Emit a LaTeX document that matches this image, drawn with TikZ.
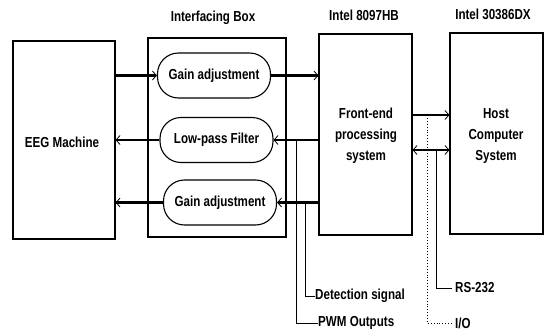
\documentclass[tikz,border=0pt]{standalone}
\usepackage{fontspec}
\setmainfont{Liberation Sans}[FakeStretch=0.8]
\usetikzlibrary{arrows.meta}
\begin{document}
\begin{tikzpicture}[x=1pt,y=-1pt,
  font=\bfseries\fontsize{14.5}{21}\selectfont,
  blk/.style={draw,line width=1.1pt,inner sep=0pt},
  oval/.style={draw,line width=1.1pt,rounded corners=21pt,minimum width=113pt,minimum height=45pt,inner sep=0pt},
  bus/.style={line width=2.6pt,-{Straight Barb[length=4pt,width=9pt,line width=0.8pt]}},
  dbus/.style={line width=2.6pt,{Straight Barb[length=4pt,width=9pt,line width=0.8pt]}-{Straight Barb[length=4pt,width=9pt,line width=0.8pt]}},
  sig/.style={line width=0.9pt},
  lbl/.style={anchor=west,inner sep=0pt}]
\useasboundingbox (0,0) rectangle (544,332);
% boxes
\node[blk,minimum width=102pt,minimum height=198pt] (eeg) at (64,140) {};
\node at (62,142) {EEG Machine};
\node[blk,minimum width=138pt,minimum height=199pt] (ib) at (217,137.5) {};
\node[blk,minimum width=93pt,minimum height=201pt] (fe) at (365.5,134.5) {};
\node[blk,minimum width=93pt,minimum height=201pt] (host) at (496.5,133.5) {};
\node[align=center] at (366,136) {Front-end\\processing\\system};
\node[align=center] at (496,136) {Host\\Computer\\System};
% titles
\node (t1) at (213,18) {Interfacing Box};
\node (t2) at (364,15) {Intel 8097HB};
\node (t3) at (493,14) {Intel 30386DX};
% ovals
\node[oval] (gt) at (214,75.5) {Gain adjustment};
\node[oval] (lp) at (216.5,140) {Low-pass Filter};
\node[oval] (gb) at (220,202.5) {Gain adjustment};
% buses
\draw[bus] (eeg.east |- gt.west) -- (gt.west);
\draw[bus] (gt.east) -- (fe.west |- gt.east);
\draw[bus] (fe.west |- lp.east) -- (lp.east);
\draw[bus] (lp.west) -- (eeg.east |- lp.west);
\draw[bus] (fe.west |- gb.east) -- (gb.east);
\draw[bus] (gb.west) -- (eeg.east |- gb.west);
\coordinate (r1) at (430,115);
\coordinate (r2) at (430,150);
\draw[bus] (fe.east |- r1) -- (host.west |- r1);
\draw[dbus] (fe.east |- r2) -- (host.west |- r2);
% signal lines
\coordinate (p1) at (296,140);
\coordinate (p2) at (305,202.5);
\node[lbl] (pwm) at (318,323) {PWM Outputs};
\node[lbl] (det) at (315,296) {Detection signal};
\draw[sig] (p1) -- (p1 |- pwm.west) -- (pwm.west);
\draw[sig] (p2) -- (p2 |- det.west) -- (det.west);
\coordinate (q1) at (427,115);
\coordinate (q2) at (436,150);
\node[lbl] (io) at (455,323) {I/O};
\node[lbl] (rs) at (455,288) {RS-232};
\draw[sig,dotted] (q1) -- (q1 |- io.west) -- ([xshift=-3pt]io.west);
\draw[sig] (q2) -- (q2 |- rs.west) -- ([xshift=-3pt]rs.west);
\end{tikzpicture}
\end{document}
